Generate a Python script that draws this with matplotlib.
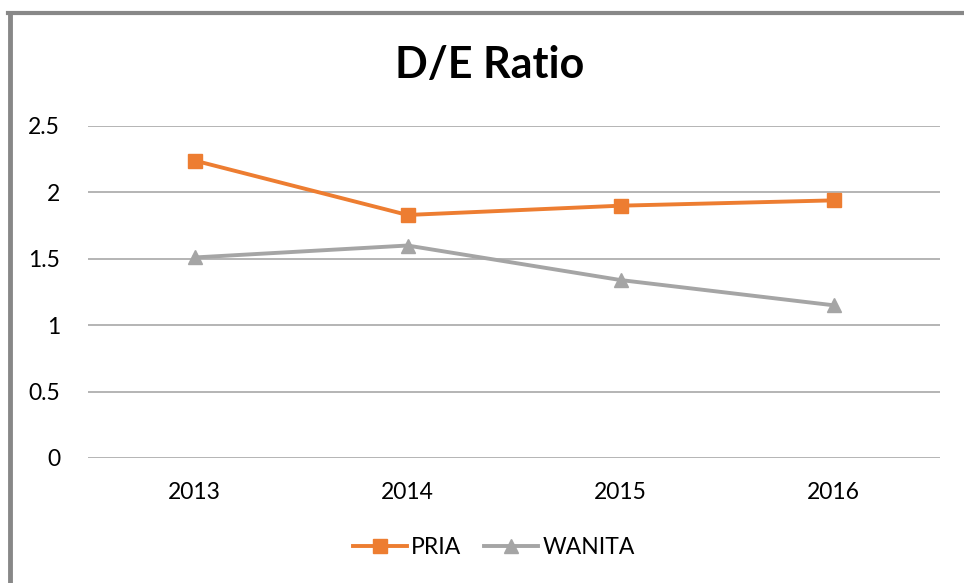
import matplotlib
matplotlib.use("Agg")
import matplotlib.pyplot as plt
from matplotlib.lines import Line2D

years = ["2013", "2014", "2015", "2016"]
pria = [2.24, 1.83, 1.90, 1.94]
wanita = [1.51, 1.60, 1.34, 1.15]
yticks = [0, 0.5, 1, 1.5, 2, 2.5]
ytick_labels = ["0", "0.5", "1", "1.5", "2", "2.5"]

plt.rcParams['font.family'] = ['Lato', 'DejaVu Sans']

fig = plt.figure(figsize=(9.64, 5.83), dpi=100)
ax = fig.add_axes([88/964, (583-458)/583, (940-88)/964, (458-126)/583])

x = list(range(len(years)))
ax.plot(x, pria, color='#ED7D31', lw=2.8, marker='s', ms=9.5, label='PRIA', zorder=3)
ax.plot(x, wanita, color='#A5A5A5', lw=2.8, marker='^', ms=10, label='WANITA', zorder=3)

ax.set_xlim(-0.5, 3.5)
ax.set_ylim(0, 2.5)
ax.set_yticks(yticks)
ax.set_yticklabels(ytick_labels)
ax.set_xticks(x)
ax.set_xticklabels(years)
ax.grid(axis='y', color='#A0A0A0', lw=1.1, zorder=0)
for s in ax.spines.values():
    s.set_visible(False)
ax.tick_params(length=0, labelsize=16.5, colors='black')
ax.tick_params(axis='y', pad=20)
ax.tick_params(axis='x', pad=17)

fig.text(490/964, 1 - 65/583, 'D/E Ratio', ha='center', va='center', fontsize=31, fontweight='bold')

fig.legend(loc='center', bbox_to_anchor=(494/964, 1 - 548/583), ncol=2, frameon=False,
           fontsize=16.5, handlelength=2.35, columnspacing=1.0, handletextpad=0.2)

# border lines (left and top)
fig.add_artist(Line2D([10/964, 10/964], [0, 1 - 13/583], color='#888888', lw=3.5, transform=fig.transFigure))
fig.add_artist(Line2D([8/964, 1], [1 - 13/583, 1 - 13/583], color='#888888', lw=3, transform=fig.transFigure))

fig.savefig('out.png', dpi=100)
